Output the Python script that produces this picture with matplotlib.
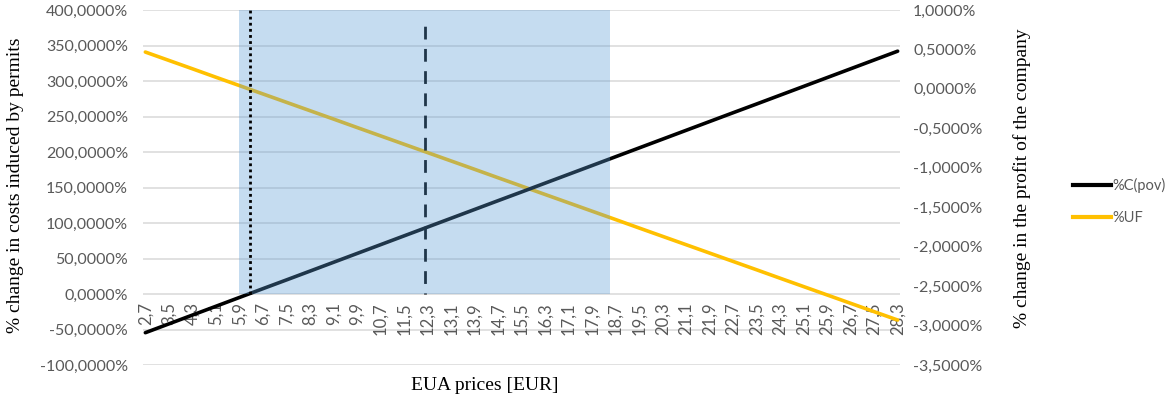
import matplotlib
matplotlib.use("Agg")
import matplotlib.pyplot as plt
from matplotlib.ticker import FuncFormatter, FixedLocator

# EUA price categories (EUR) shown on the horizontal axis
eua_prices = [2.7, 3.5, 4.3, 5.1, 5.9, 6.7, 7.5, 8.3, 9.1, 9.9, 10.7, 11.5,
              12.3, 13.1, 13.9, 14.7, 15.5, 16.3, 17.1, 17.9, 18.7, 19.5,
              20.3, 21.1, 21.9, 22.7, 23.5, 24.3, 25.1, 25.9, 26.7, 27.5, 28.3]

# % change in costs induced by permits (left axis)
cost_change = [-54.5, -42.1, -29.7, -17.3, -4.9, 7.5, 19.8, 32.2, 44.6, 57.0,
               69.4, 81.8, 94.2, 106.6, 119.0, 131.4, 143.7, 156.1, 168.5,
               180.9, 193.3, 205.7, 218.1, 230.5, 242.9, 255.3, 267.6, 280.0,
               292.4, 304.8, 317.2, 329.6, 342.0]

# % change in the profit of the company (right axis)
profit_change = [0.467, 0.361, 0.255, 0.148, 0.042, -0.064, -0.170, -0.276,
                 -0.382, -0.489, -0.595, -0.701, -0.807, -0.913, -1.019,
                 -1.126, -1.232, -1.338, -1.444, -1.550, -1.656, -1.763,
                 -1.869, -1.975, -2.081, -2.187, -2.293, -2.400, -2.506,
                 -2.612, -2.718, -2.824, -2.930]

series_names = ["%C(pov)", "%UF"]

# Highlighted price band and reference prices
band_start, band_end = 5.87, 18.5
breakeven_price = 6.25
reference_price = 12.2

left_ticks = [-100, -50, 0, 50, 100, 150, 200, 250, 300, 350, 400]
right_ticks = [-3.5, -3.0, -2.5, -2.0, -1.5, -1.0, -0.5, 0.0, 0.5, 1.0]

TICK_FONT = "Lato"
TITLE_FONT = "Liberation Serif"
GREY = "#595959"
GRID = "#D9D9D9"
YELLOW = "#FFC000"

fig = plt.figure(figsize=(11.76, 4.05), dpi=100)
rect = [143 / 1176, 1 - 365 / 405, (900 - 143) / 1176, (365 - 10) / 405]
ax = fig.add_axes(rect)
ax2 = ax.twinx()

ax.set_xlim(2.62, 28.38)
ax.set_ylim(-100, 400)
ax2.set_ylim(-3.5, 1.0)

# category axis sits on the zero line of the primary scale
ax.spines["bottom"].set_position(("data", 0))

# horizontal gridlines of the primary axis
for v in left_ticks:
    ax.axhline(v, color=GRID, lw=1.1, zorder=0)

def pct4(v, _pos):
    return f"{v:.4f}%".replace(".", ",")

ax.yaxis.set_major_locator(FixedLocator(left_ticks))
ax.yaxis.set_major_formatter(FuncFormatter(pct4))
ax2.yaxis.set_major_locator(FixedLocator(right_ticks))
ax2.yaxis.set_major_formatter(FuncFormatter(pct4))

ax.set_xticks(eua_prices)
ax.set_xticklabels([f"{p:.1f}".replace(".", ",") for p in eua_prices])

for a in (ax, ax2):
    for s in a.spines.values():
        s.set_visible(False)
    a.tick_params(length=0)

ax.tick_params(axis="x", pad=6, labelsize=12, labelcolor=GREY, labelrotation=90)
ax.tick_params(axis="y", pad=10.8, labelsize=11.5, labelcolor=GREY)
ax2.tick_params(axis="y", pad=9.4, labelsize=11.5, labelcolor=GREY)
for lab in ax.get_xticklabels() + ax.get_yticklabels() + ax2.get_yticklabels():
    lab.set_family(TICK_FONT)

# profit series on the secondary axis
ax2.plot(eua_prices, profit_change, color=YELLOW, lw=2.6,
         solid_capstyle="round", zorder=2)

# overlay axes with the primary scale, stacked above the profit line
ax_c = fig.add_axes(rect, sharex=ax)
ax_c.set_ylim(ax.get_ylim())
ax_c.axis("off")
ax_c.plot(eua_prices, cost_change, color="black", lw=2.6,
          solid_capstyle="round", zorder=2)

# dashed reference price, beneath the highlight
ax_c.plot([reference_price, reference_price], [0, 390], color="black", lw=2.0,
          linestyle=(4.2, (4.6, 3.4)), zorder=3)

# translucent highlight band over the series
ax_c.axvspan(band_start, band_end, ymin=100 / 500, ymax=1.0,
             color="#5B9BD5", alpha=0.35, lw=0, zorder=4)

# dotted break-even price on top
ax_c.plot([breakeven_price, breakeven_price], [0, 400], color="black", lw=2.0,
          linestyle=(0, (1, 1.2)), zorder=5)

fig.text(16 / 1176, 1 - 185 / 405, "% change in costs induced by permits",
         rotation=90, ha="center", va="center", family=TITLE_FONT, fontsize=14)
fig.text(1022 / 1176, 1 - 178 / 405, "% change in the profit of the company",
         rotation=90, ha="center", va="center", family=TITLE_FONT, fontsize=14)
fig.text(485 / 1176, 1 - 385 / 405, "EUA prices [EUR]",
         ha="center", va="center", family=TITLE_FONT, fontsize=14)

handles = [plt.Line2D([], [], color="black", lw=3),
           plt.Line2D([], [], color=YELLOW, lw=3)]
leg = fig.legend(handles, series_names, loc="center left",
                 bbox_to_anchor=(1060 / 1176, 1 - 201.5 / 405), frameon=False,
                 handlelength=2.6, handletextpad=0.1, labelspacing=1.26,
                 prop={"family": TICK_FONT, "size": 10.5})
for t in leg.get_texts():
    t.set_color(GREY)

fig.savefig("out.png", dpi=100)
